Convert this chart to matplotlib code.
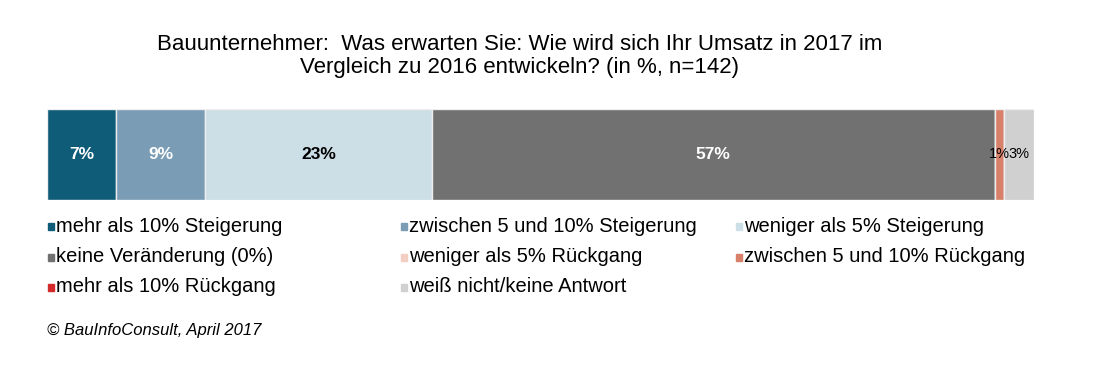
import numpy as np
import matplotlib.pyplot as plt
from matplotlib.patches import Rectangle

plt.rcParams["font.family"] = ["Liberation Sans", "DejaVu Sans"]

# Data
categories = [
    "mehr als 10% Steigerung",
    "zwischen 5 und 10% Steigerung",
    "weniger als 5% Steigerung",
    "keine Veränderung (0%)",
    "weniger als 5% Rückgang",
    "zwischen 5 und 10% Rückgang",
    "mehr als 10% Rückgang",
    "weiß nicht/keine Antwort",
]
values = [7, 9, 23, 57, 0, 1, 0, 3]
colors = ["#0E5C78", "#7A9DB5", "#CCDEE6", "#717171",
          "#F2CFC2", "#D88069", "#D42A2A", "#D0D0D0"]
label_colors = ["white", "white", "black", "white",
                "black", "black", "black", "black"]
label_bold = [True, True, True, True, False, False, False, False]

W, H = 1093, 377
fig = plt.figure(figsize=(10.93, 3.77), dpi=100)
ax = fig.add_axes([47 / W, 1 - 200 / H, (1034 - 47) / W, 91 / H])

left = 0
for val, col, lc, bold in zip(values, colors, label_colors, label_bold):
    ax.barh(0, val, left=left, height=1, color=col, edgecolor="#EEEEEE", linewidth=1)
    if val > 0:
        ax.text(left + val / 2, 0, f"{val}%", ha="center", va="center",
                color=lc, fontsize=12.5 if bold else 10.5,
                fontweight="bold" if bold else "normal")
    left += val

ax.set_xlim(0, sum(values))
ax.set_ylim(-0.5, 0.5)
ax.axis("off")

fig.text(520 / W, 1 - 44 / H, "Bauunternehmer:  Was erwarten Sie: Wie wird sich Ihr Umsatz in 2017 im",
         ha="center", va="center", fontsize=16)
fig.text(520 / W, 1 - 68 / H, "Vergleich zu 2016 entwickeln? (in %, n=142)",
         ha="center", va="center", fontsize=16)

# Legend (3 columns)
col_x = [47, 400, 735]
row_y = [226, 257, 287]
for i, (cat, col) in enumerate(zip(categories, colors)):
    cx = col_x[i % 3]
    cy = row_y[i // 3]
    fig.patches.append(Rectangle(((cx + 1) / W, 1 - (cy + 4) / H), 6 / W, 7 / H,
                                 transform=fig.transFigure, color=col))
    fig.text((cx + 9) / W, 1 - cy / H, cat, ha="left", va="center", fontsize=14.5)

fig.text(47 / W, 1 - 331 / H, "© BauInfoConsult, April 2017", ha="left", va="center",
         fontsize=12, style="italic")

fig.savefig("out.png", dpi=100)
